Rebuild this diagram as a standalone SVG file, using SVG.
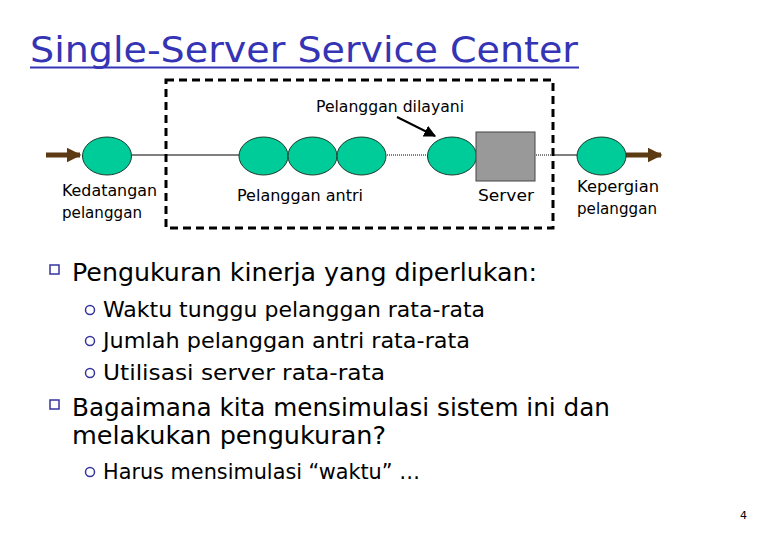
<svg xmlns="http://www.w3.org/2000/svg" width="780" height="540" viewBox="0 0 780 540">
<defs>
<style>
text{font-family:"DejaVu Sans","Liberation Sans",sans-serif;fill:#000}
.title{font-size:36px;fill:#3434b4}
.lbl{font-size:15px}
.b1{font-size:24px}
.b2{font-size:21px}
.cust{fill:#00cc99;stroke:#1a3a2a;stroke-width:1}
.flow{stroke:#5c3a14;stroke-width:5}
.bul{fill:none;stroke:#3434a0;stroke-width:1.5}
</style>
<marker id="brown" viewBox="0 0 10 10" refX="9" refY="5" markerWidth="3" markerHeight="3" orient="auto" markerUnits="strokeWidth"><path d="M0,0L10,5L0,10z" fill="#5c3a14"/></marker>
<marker id="blk" viewBox="0 0 10 10" refX="9" refY="5" markerWidth="6" markerHeight="6" orient="auto" markerUnits="strokeWidth"><path d="M0,0L10,5L0,10z" fill="#000"/></marker>
</defs>
<rect width="780" height="540" fill="#fff"/>
<text class="title" x="30" y="62" textLength="548" lengthAdjust="spacingAndGlyphs">Single-Server Service Center</text>
<line x1="30" y1="67.5" x2="579" y2="67.5" stroke="#3434b4" stroke-width="2"/>
<rect x="166" y="80" width="387" height="148" fill="none" stroke="#000" stroke-width="3" stroke-dasharray="8,5"/>
<g id="connectors">
<line x1="46" y1="155" x2="80" y2="155" class="flow" marker-end="url(#brown)"/>
<line x1="132" y1="155" x2="239" y2="155" stroke="#000" stroke-width="1"/>
<line x1="387" y1="155" x2="427" y2="155" stroke="#000" stroke-width="1" stroke-dasharray="1,1"/>
<line x1="536" y1="155" x2="553" y2="155" stroke="#000" stroke-width="1" stroke-dasharray="1,1"/>
<line x1="553" y1="155" x2="577" y2="155" stroke="#000" stroke-width="1"/>
<line x1="626" y1="155" x2="661" y2="155" class="flow" marker-end="url(#brown)"/>
<line x1="397" y1="117" x2="435" y2="136" stroke="#000" stroke-width="2" marker-end="url(#blk)"/>
</g>
<g id="arrival"><ellipse class="cust" cx="107" cy="156" rx="24.5" ry="19"/></g>
<g id="queue">
<ellipse class="cust" cx="263.5" cy="156" rx="24.5" ry="19"/>
<ellipse class="cust" cx="312.5" cy="156" rx="24.5" ry="19"/>
<ellipse class="cust" cx="361.5" cy="156" rx="24.5" ry="19"/>
</g>
<g id="served"><ellipse class="cust" cx="452" cy="156" rx="24.5" ry="19"/></g>
<g id="server"><rect x="476" y="132" width="59" height="49" fill="#999" stroke="#444" stroke-width="1"/></g>
<g id="departure"><ellipse class="cust" cx="601.5" cy="156" rx="24.5" ry="19"/></g>
<text class="lbl" x="316" y="112" textLength="148" lengthAdjust="spacingAndGlyphs">Pelanggan dilayani</text>
<text class="lbl" x="62" y="196" textLength="95" lengthAdjust="spacingAndGlyphs">Kedatangan</text>
<text class="lbl" x="62" y="218" textLength="80" lengthAdjust="spacingAndGlyphs">pelanggan</text>
<text class="lbl" x="237" y="201" textLength="126" lengthAdjust="spacingAndGlyphs">Pelanggan antri</text>
<text class="lbl" x="478" y="201" textLength="56" lengthAdjust="spacingAndGlyphs">Server</text>
<text class="lbl" x="577" y="192" textLength="82" lengthAdjust="spacingAndGlyphs">Kepergian</text>
<text class="lbl" x="577" y="214" textLength="80" lengthAdjust="spacingAndGlyphs">pelanggan</text>
<rect class="bul" x="50" y="265" width="9" height="9" stroke-width="2"/>
<text class="b1" x="72" y="281" textLength="465" lengthAdjust="spacingAndGlyphs">Pengukuran kinerja yang diperlukan:</text>
<circle class="bul" cx="90" cy="310" r="4.5"/>
<text class="b2" x="103" y="317" textLength="382" lengthAdjust="spacingAndGlyphs">Waktu tunggu pelanggan rata-rata</text>
<circle class="bul" cx="90" cy="341" r="4.5"/>
<text class="b2" x="103" y="348" textLength="367" lengthAdjust="spacingAndGlyphs">Jumlah pelanggan antri rata-rata</text>
<circle class="bul" cx="90" cy="373" r="4.5"/>
<text class="b2" x="103" y="380" textLength="282" lengthAdjust="spacingAndGlyphs">Utilisasi server rata-rata</text>
<rect class="bul" x="50" y="400" width="9" height="9" stroke-width="2"/>
<text class="b1" x="72" y="416" textLength="538" lengthAdjust="spacingAndGlyphs">Bagaimana kita mensimulasi sistem ini dan</text>
<text class="b1" x="72" y="444" textLength="314" lengthAdjust="spacingAndGlyphs">melakukan pengukuran?</text>
<circle class="bul" cx="90" cy="472" r="4.5"/>
<text class="b2" x="103" y="479" textLength="317" lengthAdjust="spacingAndGlyphs">Harus mensimulasi “waktu” …</text>
<text x="740" y="519" style="font-size:11px">4</text>
</svg>
